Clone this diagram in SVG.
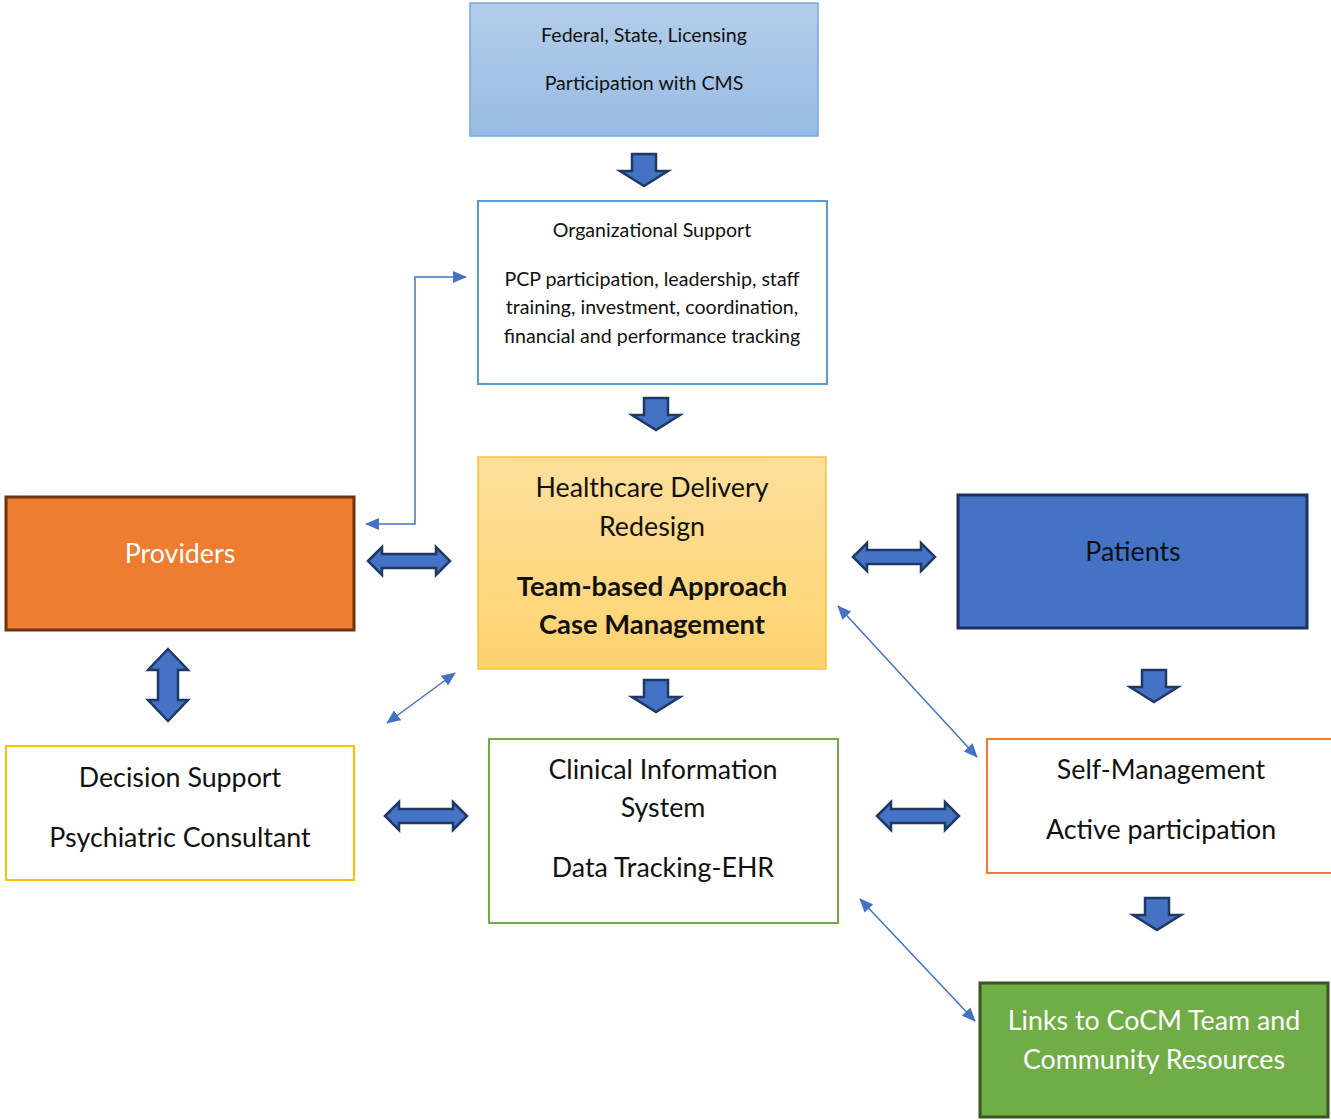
<svg xmlns="http://www.w3.org/2000/svg" width="1331" height="1120" viewBox="0 0 1331 1120">
  <style>
    text { font-family: Lato, "Liberation Sans", sans-serif; fill: #111; text-anchor: middle; }
    .sm { font-size: 19.6px; }
    .lg { font-size: 26.8px; }
    .bold { font-weight: bold; font-size: 27.4px; }
    .white { fill: #ffffff; }
    .blk { fill: #4472c4; stroke: #1f3864; stroke-width: 2.5; stroke-linejoin: miter; }
    .thin { fill: none; stroke: #4472c4; stroke-width: 1.5; }
  </style>
  <defs>
    <linearGradient id="gradTop" x1="0" y1="0" x2="0" y2="1">
      <stop offset="0" stop-color="#b3cdea"/>
      <stop offset="1" stop-color="#98bce4"/>
    </linearGradient>
    <linearGradient id="gradCore" x1="0" y1="0" x2="0" y2="1">
      <stop offset="0" stop-color="#ffdf9c"/>
      <stop offset="1" stop-color="#fdd26f"/>
    </linearGradient>
    <marker id="tip" viewBox="0 0 14 12" refX="13" refY="6" markerWidth="14" markerHeight="12" markerUnits="userSpaceOnUse" orient="auto-start-reverse">
      <path d="M0,0 L14,6 L0,12 Z" fill="#4472c4"/>
    </marker>
    <!-- block arrow shapes, centred on the origin -->
    <path id="down" d="M-12,0 H12 V17 H24 L0,32 L-24,17 H-12 Z"/>
    <path id="hdouble" d="M-41,0 L-27,-14 V-7 H27 V-14 L41,0 L27,14 V7 H-27 V14 Z"/>
    <path id="vdouble" d="M0,-36 L20,-15 H10 V15 H20 L0,36 L-20,15 H-10 V-15 H-20 Z"/>
  </defs>

  <rect width="1331" height="1120" fill="#ffffff"/>

  <g id="regulation">
    <rect x="470" y="3" width="348" height="133" fill="url(#gradTop)" stroke="#76a6dc" stroke-width="1.5"/>
    <text class="sm" x="644" y="41.5">Federal, State, Licensing</text>
    <text class="sm" x="644" y="89.5">Participation with CMS</text>
  </g>

  <g id="organizational-support">
    <rect x="478" y="201" width="349" height="183" fill="#ffffff" stroke="#5b9bd5" stroke-width="2"/>
    <text class="sm" x="652" y="236.5">Organizational Support</text>
    <text class="sm" x="652" y="285.5">PCP participation, leadership, staff</text>
    <text class="sm" x="652" y="313.5">training, investment, coordination,</text>
    <text class="sm" x="652" y="342.5">financial and performance tracking</text>
  </g>

  <g id="delivery-redesign">
    <rect x="478" y="457" width="348" height="212" fill="url(#gradCore)" stroke="#fcc33a" stroke-width="1.5"/>
    <text class="lg" x="652" y="496.5">Healthcare Delivery</text>
    <text class="lg" x="652" y="535.5">Redesign</text>
    <text class="bold" x="652" y="595.5">Team-based Approach</text>
    <text class="bold" x="652" y="633.5">Case Management</text>
  </g>

  <g id="providers">
    <rect x="6" y="497" width="348" height="133" fill="#ed7d31" stroke="#6e3410" stroke-width="3"/>
    <text class="lg white" x="180" y="562.5">Providers</text>
  </g>

  <g id="patients">
    <rect x="958" y="495" width="349" height="133" fill="#4472c4" stroke="#1f3060" stroke-width="3"/>
    <text class="lg" x="1133" y="560.5">Patients</text>
  </g>

  <g id="decision-support">
    <rect x="6" y="746" width="348" height="134" fill="#ffffff" stroke="#ffc000" stroke-width="2"/>
    <text class="lg" x="180" y="786.5">Decision Support</text>
    <text class="lg" x="180" y="846.5">Psychiatric Consultant</text>
  </g>

  <g id="clinical-information">
    <rect x="489" y="739" width="349" height="184" fill="#ffffff" stroke="#70ad47" stroke-width="2"/>
    <text class="lg" x="663" y="778.5">Clinical Information</text>
    <text class="lg" x="663" y="816.5">System</text>
    <text class="lg" x="663" y="876.5">Data Tracking-EHR</text>
  </g>

  <g id="self-management">
    <rect x="987" y="739" width="350" height="134" fill="#ffffff" stroke="#ed7d31" stroke-width="2"/>
    <text class="lg" x="1161" y="778.5">Self-Management</text>
    <text class="lg" x="1161" y="838.5">Active participation</text>
  </g>

  <g id="community-links">
    <rect x="980" y="983" width="348" height="134" fill="#70ad47" stroke="#375623" stroke-width="3"/>
    <text class="lg white" x="1154" y="1029.5">Links to CoCM Team and</text>
    <text class="lg white" x="1154" y="1068.5">Community Resources</text>
  </g>

  <g id="connectors">
    <!-- flow arrows -->
    <use href="#down" class="blk" transform="translate(644,154)"/>
    <use href="#down" class="blk" transform="translate(656,398)"/>
    <use href="#down" class="blk" transform="translate(656,680)"/>
    <use href="#down" class="blk" transform="translate(1154,670)"/>
    <use href="#down" class="blk" transform="translate(1157,898)"/>
    <use href="#hdouble" class="blk" transform="translate(409,561)"/>
    <use href="#hdouble" class="blk" transform="translate(894,557)"/>
    <use href="#hdouble" class="blk" transform="translate(426,816)"/>
    <use href="#hdouble" class="blk" transform="translate(918,816)"/>
    <use href="#vdouble" class="blk" transform="translate(168,685)"/>
    <!-- thin two-way links -->
    <polyline class="thin" points="366,524 415,524 415,277 466,277" marker-start="url(#tip)" marker-end="url(#tip)"/>
    <line class="thin" x1="387" y1="723" x2="455" y2="673" marker-start="url(#tip)" marker-end="url(#tip)"/>
    <line class="thin" x1="838" y1="606" x2="977" y2="757" marker-start="url(#tip)" marker-end="url(#tip)"/>
    <line class="thin" x1="860" y1="899" x2="975" y2="1021" marker-start="url(#tip)" marker-end="url(#tip)"/>
  </g>
</svg>
